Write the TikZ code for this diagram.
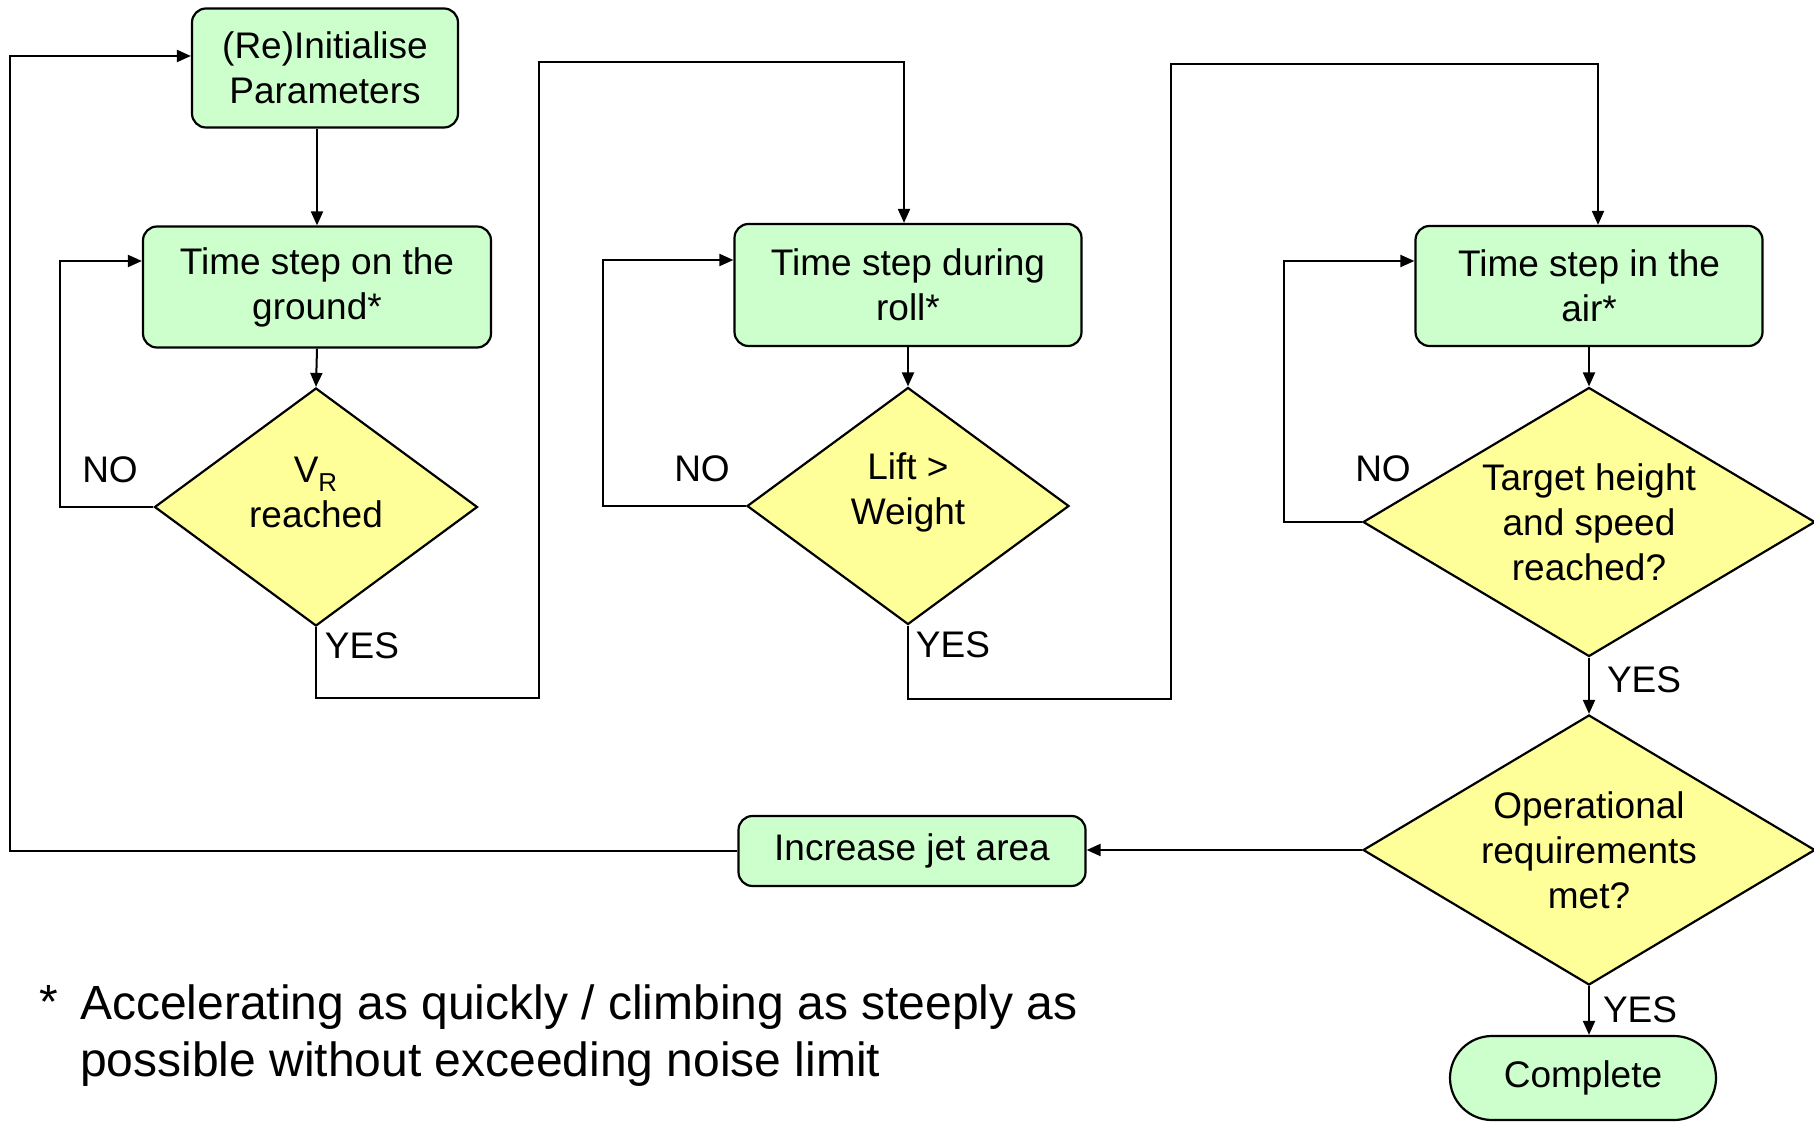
\documentclass[tikz,border=0pt]{standalone}
\usepackage{fontspec}
\setmainfont{Liberation Sans}
\usetikzlibrary{shapes.geometric,arrows.meta}

\definecolor{boxgreen}{HTML}{CCFFCC}
\definecolor{testyellow}{HTML}{FFFF99}

\begin{document}
\begin{tikzpicture}[x=0.5pt,y=-0.5pt,line width=1pt,
        every node/.style={font=\fontsize{18.5}{22.5}\selectfont},
        proc/.style={draw,fill=boxgreen,rounded corners=7pt,align=center,line width=1.1pt},
        test/.style={draw,fill=testyellow,diamond,inner sep=0pt,align=center,line width=1.1pt},
        arr/.style={-{Triangle[length=7pt,width=6pt]}}]
            \useasboundingbox (0,0) rectangle (1814,1122);

            % boxes
            \node[proc,minimum width=133pt,minimum height=59.5pt] (init) at (325,68) {(Re)Initialise\\Parameters};
            \node[proc,minimum width=174pt,minimum height=60.5pt] (ground) at (317,287) {Time step on the\\ground*};
            \node[proc,minimum width=173.5pt,minimum height=61pt] (roll) at (908,285) {Time step during\\roll*};
            \node[proc,minimum width=173.5pt,minimum height=60pt] (air) at (1589,286) {Time step in the\\air*};
            \node[proc,minimum width=173.5pt,minimum height=35pt] (incr) at (912,851) {Increase jet area};
            \node[proc,rounded corners=21pt,minimum width=133pt,minimum height=42pt] (done) at (1583,1078) {Complete};

            % tests
            \node[test,minimum width=161.5pt,minimum height=119pt] (vr) at (316,507) {};
            \node[align=center] (vrtext) at (316,492) {V\textsubscript{\raisebox{-2pt}{R}}\\reached};
            \node[test,minimum width=161pt,minimum height=118.5pt] (lift) at (908,506) {};
            \node[align=center] (lifttext) at (908,492) {Lift >\\Weight};
            \node[test,aspect=1.68,minimum width=226pt,minimum height=134.5pt] (target) at (1589,522) {Target height\\and speed\\reached?};
            \node[test,aspect=1.68,minimum width=226pt,minimum height=135pt] (oper) at (1589,850) {Operational\\requirements\\met?};

            % bends
            \coordinate (a) at (10,56);
            \coordinate (b) at (60,261);
            \coordinate (c) at (539,698);
            \coordinate (d) at (904,62);
            \coordinate (e) at (603,260);
            \coordinate (f) at (1171,699);
            \coordinate (g) at (1598,64);
            \coordinate (h) at (1284,261);

            \draw[arr] (ground.north |- init.south) -- (ground.north);
            \draw[arr] (ground.south) -- (vr.north);
            \draw[arr] (roll.south) -- (lift.north);
            \draw[arr] (air.south) -- (target.north);
            \draw[arr] (target.south) -- (oper.north);
            \draw[arr] (oper.south) -- (oper.south |- done.north);
            \draw[arr] (oper.west) -- (oper.west -| incr.east);

            \draw[arr] (vr.west) -| (b) -- (b -| ground.west);
            \draw[arr] (vr.south) |- (c) |- (d) -- (d |- roll.north);
            \draw[arr] (lift.west) -| (e) -- (e -| roll.west);
            \draw[arr] (lift.south) |- (f) |- (g) -- (g |- air.north);
            \draw[arr] (target.west) -| (h) -- (h -| air.west);
            \draw[arr] (incr.west) -| (a) -- (a -| init.west);

            % labels
            \node (no1) at (110,470) {NO};
            \node (no2) at (702,469) {NO};
            \node (no3) at (1383,469) {NO};
            \node (yes1) at (362,646) {YES};
            \node (yes2) at (953,645) {YES};
            \node (yes3) at (1644,680) {YES};
            \node (yes4) at (1640,1010) {YES};

            % footnote
            \node[font=\fontsize{24}{28.5}\selectfont,anchor=base] (star) at (49,1018) {*};
            \node[font=\fontsize{24}{28.5}\selectfont,align=left,anchor=north west,inner sep=0pt] (note) at (79,984)
                {Accelerating as quickly / climbing as steeply as\\possible without exceeding noise limit};
\end{tikzpicture}
\end{document}
